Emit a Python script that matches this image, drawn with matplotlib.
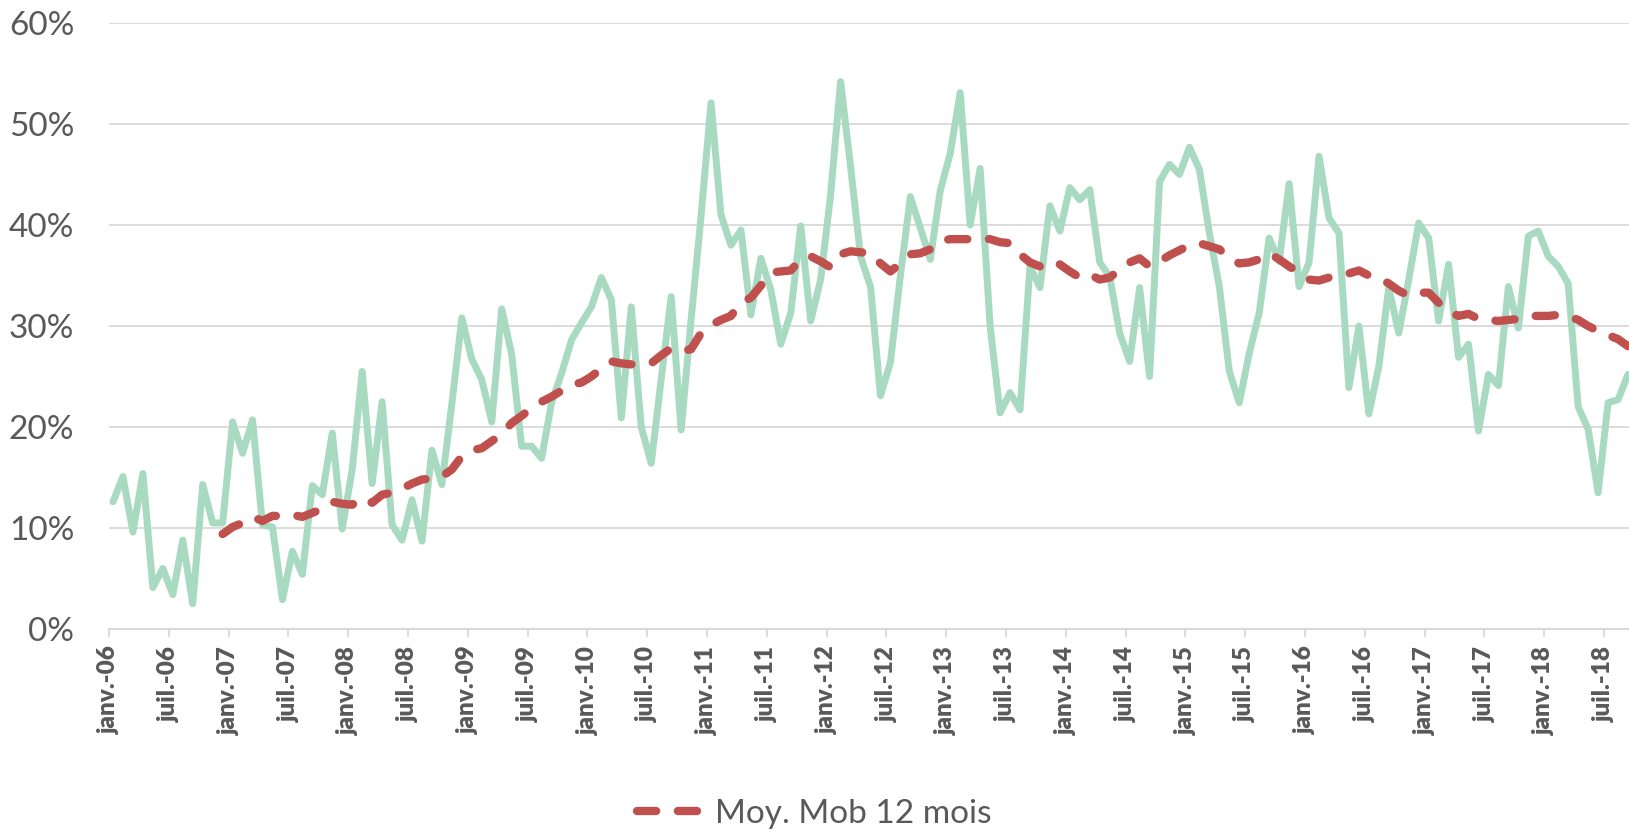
import matplotlib
matplotlib.use("Agg")
import matplotlib.pyplot as plt
from matplotlib.ticker import FuncFormatter, FixedLocator

plt.rcParams['font.family'] = ['Lato', 'DejaVu Sans']

# Monthly values, janv.-06 .. sept.-18 (in %)
monthly = [
    12.6, 15.1, 9.6, 15.4, 4.1, 6.0, 3.4, 8.8, 2.5, 14.3, 10.5, 10.5,
    20.5, 17.4, 20.7, 10.3, 10.1, 2.9, 7.7, 5.4, 14.2, 13.3, 19.4, 9.9,
    15.8, 25.5, 14.4, 22.5, 10.3, 8.8, 12.8, 8.7, 17.7, 14.3, 22.3, 30.8,
    26.7, 24.7, 20.5, 31.7, 27.2, 18.1, 18.1, 16.9, 22.4, 25.3, 28.6, 30.3,
    31.9, 34.8, 32.6, 20.9, 31.9, 20.0, 16.4, 24.7, 32.9, 19.7, 30.6, 40.9,
    52.1, 41.0, 38.0, 39.5, 31.1, 36.7, 33.6, 28.2, 31.3, 39.9, 30.5, 34.6,
    43.0, 54.2, 45.8, 36.9, 33.9, 23.1, 26.4, 35.0, 42.8, 39.7, 36.6, 43.4,
    47.1, 53.1, 40.0, 45.6, 30.0, 21.4, 23.4, 21.7, 35.9, 33.8, 41.9, 39.4,
    43.7, 42.5, 43.5, 36.3, 34.9, 29.3, 26.5, 33.8, 25.0, 44.3, 46.0, 45.0,
    47.7, 45.5, 39.2, 33.9, 25.5, 22.4, 27.3, 31.3, 38.7, 36.4, 44.1, 33.9,
    36.3, 46.8, 40.7, 39.2, 23.9, 30.0, 21.3, 26.0, 33.8, 29.3, 34.6, 40.2,
    38.7, 30.5, 36.1, 26.9, 28.2, 19.6, 25.2, 24.1, 33.9, 29.8, 38.9, 39.4,
    36.9, 35.9, 34.2, 22.0, 19.8, 13.5, 22.4, 22.7, 25.2,
]

# 12-month moving average, starts at déc.-06 (index 11)
ma_start = 11
moving_avg = [
    9.4, 10.1, 10.5, 11.1, 10.7, 11.2, 11.2, 11.3, 11.1, 11.5, 11.9, 12.6,
    12.4, 12.3, 13.0, 12.5, 13.3, 13.5, 13.9, 14.4, 14.8, 14.9, 15.1, 15.8,
    17.1, 17.7, 17.9, 18.6, 19.3, 20.4, 21.1, 21.9, 22.5, 23.0, 23.6, 24.2,
    24.4, 25.0, 25.8, 26.5, 26.3, 26.2, 26.2, 26.3, 27.1, 27.8, 27.5, 27.7,
    29.3, 30.1, 30.6, 31.0, 32.3, 32.8, 34.0, 35.3, 35.4, 35.5, 36.6, 36.9,
    36.4, 35.8, 37.1, 37.4, 37.3, 37.2, 36.2, 35.4, 36.2, 37.1, 37.2, 37.6,
    38.4, 38.6, 38.6, 38.6, 38.7, 38.6, 38.3, 38.2, 37.1, 36.3, 35.9, 36.4,
    36.1, 35.4, 34.8, 35.1, 34.6, 34.8, 35.6, 36.3, 36.7, 35.9, 36.4, 37.0,
    37.5, 38.0, 38.2, 37.9, 37.6, 36.7, 36.2, 36.3, 36.6, 37.2, 36.6, 35.9,
    35.3, 34.6, 34.5, 34.8, 35.1, 35.2, 35.5, 35.0, 34.8, 34.2, 33.5, 33.0,
    33.3, 33.3, 32.3, 31.4, 31.0, 31.2, 30.7, 30.6, 30.5, 30.6, 30.7, 31.0,
    31.0, 31.0, 31.1, 31.0, 30.6, 30.0, 29.5, 29.1, 28.7, 28.0,
]

years = ['06', '07', '08', '09', '10', '11', '12', '13', '14', '15', '16', '17', '18']
tick_labels = []
for y in years:
    tick_labels += ['janv.-' + y, 'juil.-' + y]

grey = '#595959'

fig = plt.figure(figsize=(16.29, 8.32), dpi=100)
ax = fig.add_axes([109 / 1629, 1 - 629 / 832, 1 - 109 / 1629, (629 - 23) / 832])

x_all = list(range(len(monthly)))
x_ma = list(range(ma_start, ma_start + len(moving_avg)))

ax.plot(x_all, monthly, color='#A8D9C1', lw=5.0, solid_joinstyle='round',
        solid_capstyle='round', zorder=2)
ax.plot(x_ma, moving_avg, color='#C0504D', lw=6.0, dashes=(2.3, 2.6),
        dash_capstyle='round', zorder=3, label='Moy. Mob 12 mois')

ax.set_ylim(0, 60)
ax.set_xlim(-0.4, 152.1)
ax.set_yticks(range(0, 61, 10))
ax.yaxis.set_major_formatter(FuncFormatter(lambda v, p: '%d%%' % v))
ax.grid(axis='y', color='#D9D9D9', lw=1.3)
ax.set_axisbelow(True)

tick_pos = [6 * k - 0.4 for k in range(len(tick_labels))]
ax.xaxis.set_major_locator(FixedLocator(tick_pos))
ax.set_xticklabels(tick_labels, rotation=90, fontweight='heavy', fontsize=17.5, color=grey)

for s in ['top', 'right', 'left']:
    ax.spines[s].set_visible(False)
ax.spines['bottom'].set_color('#D9D9D9')
ax.spines['bottom'].set_linewidth(1.5)

ax.tick_params(axis='y', length=0, labelsize=24, labelcolor=grey, pad=25)
ax.tick_params(axis='x', length=6, width=1.3, color='#D9D9D9', pad=6)

fig.legend(loc='center', bbox_to_anchor=(0.5, 0.022), frameon=False, fontsize=24,
           handlelength=1.9, handletextpad=0.45, labelcolor=grey)

fig.savefig('out.png', dpi=100)
